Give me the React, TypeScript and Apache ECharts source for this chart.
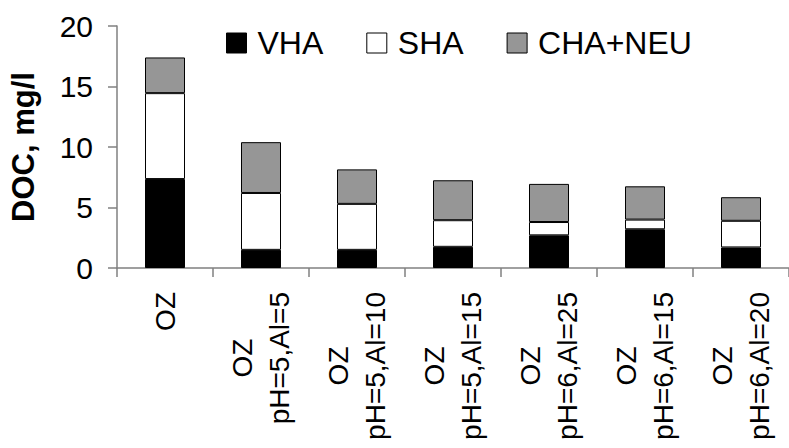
import React, { useEffect, useRef } from "react";
import * as echarts from "echarts";

const categories = [
  "OZ",
  "OZ\npH=5,Al=5",
  "OZ\npH=5,Al=10",
  "OZ\npH=5,Al=15",
  "OZ\npH=6,Al=25",
  "OZ\npH=6,Al=15",
  "OZ\npH=6,Al=20",
];
const vha = [7.35, 1.5, 1.5, 1.75, 2.7, 3.2, 1.7];
const sha = [7.1, 4.7, 3.8, 2.2, 1.1, 0.8, 2.2];
const chaNeu = [2.95, 4.2, 2.85, 3.3, 3.15, 2.75, 1.95];
const seriesNames = ["VHA", "SHA", "CHA+NEU"];
const seriesColors = ["#000000", "#ffffff", "#969696"];
const yTicks = { min: 0, max: 20, interval: 5 };

const FONT = "'Liberation Sans', Arial, sans-serif";

export default function App() {
  const ref = useRef<HTMLDivElement>(null);
  useEffect(() => {
    if (!ref.current) return;
    const chart = echarts.init(ref.current, undefined, { renderer: "svg" });
    const seriesData = [vha, sha, chaNeu];
    chart.setOption({
      animation: false,
      backgroundColor: "#ffffff",
      textStyle: { fontFamily: FONT },
      grid: { left: 117, top: 26, bottom: 180, right: -8, containLabel: false },
      legend: {
        left: 221,
        top: 22,
        itemWidth: 20,
        itemHeight: 20,
        itemGap: 43,
        icon: "rect",
        itemStyle: { borderColor: "#000", borderWidth: 1 },
        textStyle: { fontSize: 32, color: "#000", fontFamily: FONT, padding: [0, 0, 0, 6] },
        data: seriesNames,
      },
      xAxis: {
        type: "category",
        data: categories,
        axisLine: { lineStyle: { color: "#808080", width: 1.5 } },
        axisTick: { show: true, alignWithLabel: false, length: 9, lineStyle: { color: "#808080", width: 1.5 } },
        axisLabel: {
          interval: 0,
          rotate: 90,
          margin: 24,
          color: "#000",
          fontFamily: FONT,
          fontSize: 28,
          lineHeight: 37,
          formatter: (v: string) =>
            v
              .split("\n")
              .map((l) => `{c|${l}}`)
              .join("\n"),
          rich: {
            c: { align: "center", fontSize: 28, lineHeight: 37, color: "#000", fontFamily: FONT },
          },
        },
      },
      yAxis: {
        type: "value",
        min: yTicks.min,
        max: yTicks.max,
        interval: yTicks.interval,
        name: "DOC, mg/l",
        nameLocation: "middle",
        nameGap: 78,
        nameTextStyle: { fontSize: 31, fontWeight: "bold", color: "#000", fontFamily: FONT },
        axisLine: { show: true, lineStyle: { color: "#808080", width: 1.5 } },
        axisTick: { show: true, length: 9, lineStyle: { color: "#808080", width: 1.5 } },
        splitLine: { show: false },
        axisLabel: { fontSize: 30, color: "#000", margin: 24, fontFamily: FONT },
      },
      series: seriesNames.map((name, i) => ({
        name,
        type: "bar",
        stack: "doc",
        barWidth: 40,
        data: seriesData[i],
        itemStyle: { color: seriesColors[i], borderColor: "#000", borderWidth: 1 },
      })),
    });
    return () => chart.dispose();
  }, []);
  return <div ref={ref} style={{ width: 789, height: 448, position: "absolute", left: 0, top: 0 }} />;
}
